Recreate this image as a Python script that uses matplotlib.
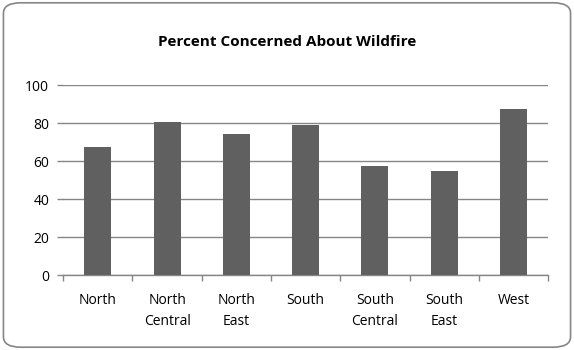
import matplotlib
matplotlib.use("Agg")
import matplotlib.pyplot as plt
from matplotlib.patches import FancyBboxPatch

categories = ["North", "North\nCentral", "North\nEast", "South", "South\nCentral", "South\nEast", "West"]
values = [67.5, 80.5, 74.5, 79.2, 57.5, 54.8, 87.4]
yticks = [0, 20, 40, 60, 80, 100]

plt.rcParams['font.family'] = ['Open Sans', 'DejaVu Sans']

fig = plt.figure(figsize=(5.74, 3.5), dpi=100)
fig.patch.set_facecolor("white")
border = FancyBboxPatch((0.006, 0.008), 0.988, 0.984, boxstyle="round,pad=0,rounding_size=0.03",
                        transform=fig.transFigure, facecolor="white", edgecolor="#868686",
                        linewidth=1.2, zorder=-10)
fig.patches.append(border)

ax = fig.add_axes([0.110, 0.214, 0.845, 0.543])
ax.set_facecolor("none")
x = list(range(len(categories)))
ax.bar(x, values, width=0.39, color="#606060", zorder=3)
ax.set_xlim(-0.5, len(categories) - 0.5)
ax.set_ylim(0, 100)
ax.set_yticks(yticks)
ax.set_yticklabels([str(v) for v in yticks], fontsize=10)
ax.yaxis.grid(True, color="#868686", linewidth=1.0, zorder=0)
ax.set_xticks(x)
ax.set_xticklabels(categories, fontsize=10, linespacing=1.55)
ax.tick_params(axis="x", length=0, pad=13)
ax.set_xticks([i - 0.5 for i in range(len(categories) + 1)], minor=True)
ax.tick_params(axis="x", which="minor", length=4, color="#868686", width=1.0)
ax.tick_params(axis="y", length=4, color="#868686", width=1.0, pad=6)
for s in ["top", "right", "left"]:
    ax.spines[s].set_visible(False)
ax.spines["bottom"].set_color("#868686")
ax.spines["bottom"].set_linewidth(1.0)
ax.set_axisbelow(True)

fig.text(0.5, 0.88, "Percent Concerned About Wildfire", ha="center", va="center",
         fontsize=11, fontweight="bold")

fig.savefig("out.png", dpi=100)
